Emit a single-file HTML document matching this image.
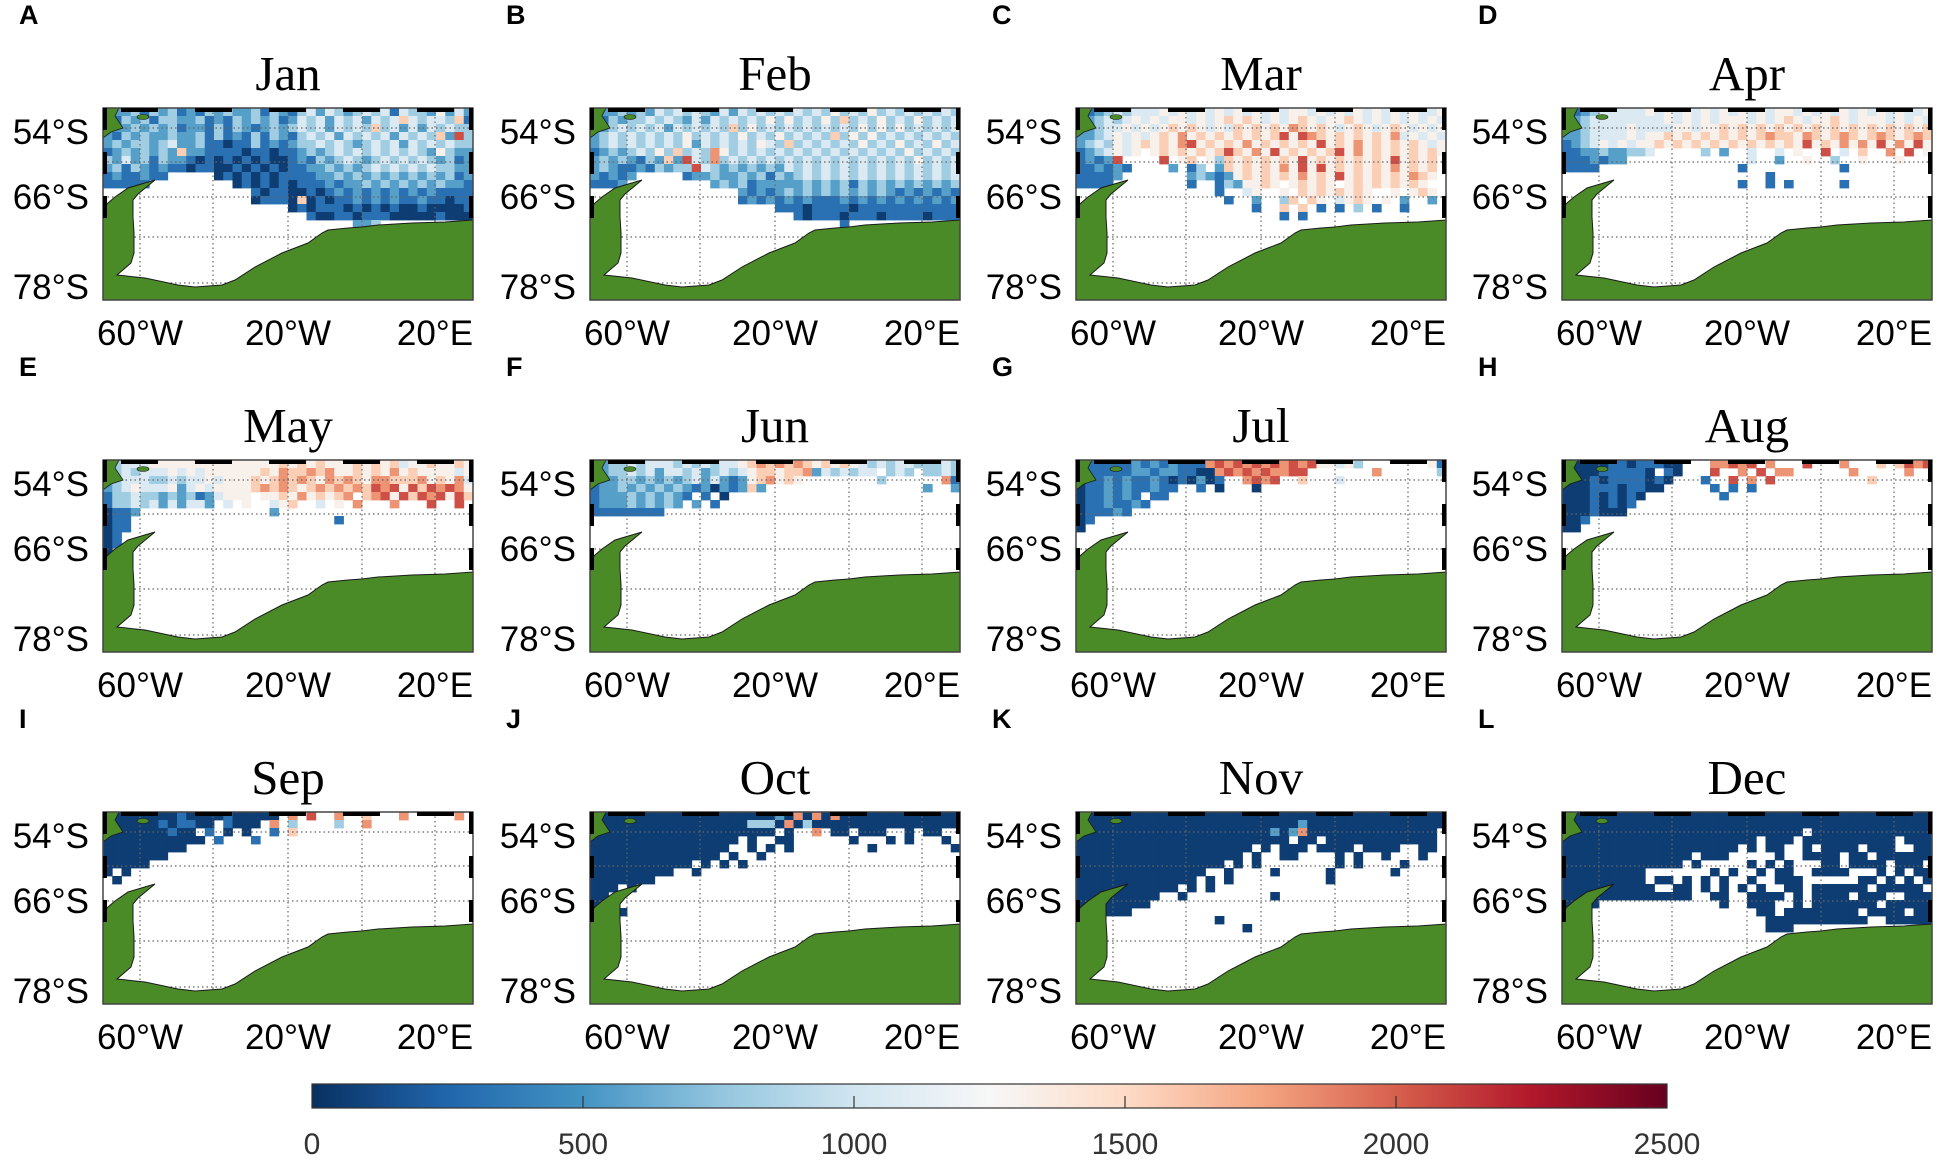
<!DOCTYPE html>
<html><head><meta charset="utf-8">
<style>
html,body{margin:0;padding:0;background:#fff;}
svg{display:block;}
</style></head>
<body>
<svg id="fig" width="1949" height="1161" viewBox="0 0 1949 1161" xmlns="http://www.w3.org/2000/svg"></svg>
<script>
const months = ["Jan","Feb","Mar","Apr","May","Jun","Jul","Aug","Sep","Oct","Nov","Dec"];
const panelLetters = ["A","B","C","D","E","F","G","H","I","J","K","L"];
const latTickLabels = ["54°S","66°S","78°S"];
const lonTickLabels = ["60°W","20°W","20°E"];
const colorbarTicks = [0,500,1000,1500,2000,2500];
// gridded values: digit d => value d*250+60, '.' = no data
const janRows = [
"1223132312132322313213424323434143325242",
"2132313322312132323124342434243464344361",
"1223232312213132123234342434363424243433",
"2132322322313121313213434243434243436283",
"2323323422311011312123343432343424343433",
"1232323262211110110112323434343434325322",
"3242313221010101010012132343234343432312",
"2313212110110010101011223232343434343322",
"1211211.....0101010111122323232323232312",
"11111.........01010101112122323232323221",
"................101100101212121212121111",
"................011106010112121211211011",
"....................01011101010100100001",
"......................100110111000001000",
"...........................223.........."];
const febRows = [
"1223232434343242434343434353435343434343",
"2132334343242434343535343536343534353434",
"1234343424343436353434343434353535343434",
"2343434343534343534353434363535343434343",
"2343434343524343435436343434353435343534",
"1232343536343753434343434343434343534343",
"2323213262843734343434343434343434353434",
"2321121323384323232324343434343434343434",
"21212.....122322323132343434343434343434",
"1112.........232312222232323132323232323",
"................212123232323232321212121",
"................121212121112121212121212",
"....................11101111011111111111",
"......................101110111011110111",
"...........................1............"];
const marRows = [
"1123434445454545454545455454545454545445",
"1234345454554545656545456545565454545454",
"2234454545656545465656576565456545654545",
"2234545456575656565656858765656565745454",
"2343545656578565657565656585657565656545",
"1234545.56565656865758565656857565656565",
"12128....8.56.5365656565856565656585656",
"112121....2.13.265656575858565656575656",
"11112.......232125656565756585656565765",
"1111........1..1325565.56565.565656565",
"...............1..45..5.65656565..5.565",
"................1..2..36.65.4565.5.2..2",
"...................1..6.6.1.1.3.1..1...",
"......................1.1.............."];
const aprRows = [
"1123444445454545454545455454545454545445",
"1234444444454545455545456545565455545454",
"2234444544445545565656565656565656565656",
"2234444545565656565656766576567656765676",
"1234545455656565656565656585657575857585",
"1122322334.....3.2..4..4.5..8.4.6..7.8.5",
"1112122.............4..2..5..3..5...5...",
"1111...............1..........1.........",
"......................1.................",
"...................1..1.1.....1........."];
const mayRows = [
"2344455555555555555656565556565645565565",
"2343444545455555565766767556565756555545",
"2344433434454555656767657676577666756574",
"2345444524545555676765676767687858687875",
"1334332323124555.5565756567.678586878586",
"133434242442.4.5..456..4.5.7...7...8..8.",
"0112..............2.....................",
"011......................1..............",
"011.....................................",
"01......................................",
"01......................................",
"0......................................."];
const junRows = [
"1233434443434344567676765656543434433343",
"1233434244342343456656672434344.343.3343",
"12233232323424212567565........3......71",
"1223232323212021262.................2..2",
"12223232321.1.0.........................",
"1222323232.2.1..........................",
"11111111................................"];
const julRows = [
"0111112121211178787878787855453.......51",
"0111112212211007878787788.......7......3",
"0112121121010201..7878..6...4...........",
"01121211211..1.0...0....................",
"0112121.11..............................",
"01121121................................",
"011121..................................",
"01......................................",
"0......................................."];
const augRows = [
"0000011011100...77878.7...8...7...6.6878",
"0000111110.10...8..7.8.77......7.....7..",
"000101111010...1..8.7.8..........6......",
"00011101100.....1.1.1...................",
"000101010........1......................",
"00010101................................",
"0001000.................................",
"001.....................................",
"00......................................"];
const sepRows = [
"0000000010000100000.7.8..7..6...7.....7.",
"000000101100.1000.7.3....3..7...........",
"0000000100.1.0.0..1.6...................",
"00000000000.1...1.......................",
"000000000...............................",
"0000000.................................",
"00000...................................",
"0.0.....................................",
".0......................................"];
const octRows = [
"0000000000000000000020707070000000000000",
"0000000000000000033307030000000000000000",
"00000000000000000000.0..7.00.000..0.00..",
"0000000000000000.0..00......0...0.0...0.",
"000000000000000..0.0.0........0........0",
"00000000000000.0..0.....................",
"00000000000.0.0.0.......................",
"000000000..0............................",
"0000000.................................",
"000.0...................................",
"00......................................",
"00......................................",
"...0...................................."];
const novRows = [
"0000000000000000000000000000000000000000",
"0000000000000000000000002000000000000000",
"000000000000000000000202700000000000000.",
"00000000000000000000000.00.000000000000.",
"0000000000000000000.0.000.0000.0000..00.",
"000000000000000000.0..00....0.0..0...0..",
"0000000000000000.0.0........0.0....0....",
"00000000000000..0....0.....0......0.....",
"0000000000000.0.0..........0............",
"00000000000.0.0.........................",
"000000000..0.........0..................",
"00000000................................",
"000000..................................",
"...............0........................",
"..................0....................."];
const decRows = [
"0000000000000000000000000000000000000000",
"0000000000000000000000000000000000000000",
"00000000000000000000000000.0000000000000",
"000000000000000000000.000.0000000000.000",
"0000000000000000000.0.00..0.0000.000..00",
"00000000000000.000.....0..0000.00.000000",
"0000000000000.0.....0.0.0...00.0000.000.",
"000000000.......0.0..0.00..0000...0.0.00",
"000000000.00.0.0.0..0..000......00.0.0.0",
"0000000000..00.0.0.0.0..00.000000.00000.",
"00000000000000..00..0000.0.0000.000..000",
"0000.............0..000..0.0000000.00000",
".....................00.00000000.0000.00",
"......................00000000000..00000",
"......................000..............."];
const monthRows = [janRows,febRows,marRows,aprRows,mayRows,junRows,julRows,augRows,sepRows,octRows,novRows,decRows];

const NS = "http://www.w3.org/2000/svg";
const svg = document.getElementById('fig');
function mk(tag, attrs, parent){
  const e = document.createElementNS(NS, tag);
  for (const k in attrs) e.setAttribute(k, attrs[k]);
  (parent||svg).appendChild(e);
  return e;
}
const stops = [[0,[8,48,97]],[0.1,[33,102,172]],[0.2,[67,147,195]],[0.3,[146,197,222]],[0.4,[209,229,240]],[0.5,[247,247,247]],[0.6,[253,219,199]],[0.7,[244,165,130]],[0.8,[214,96,77]],[0.9,[178,24,43]],[1,[103,0,31]]];
function cmap(t){
  t=Math.max(0,Math.min(1,t));
  for(let i=1;i<stops.length;i++){
    if(t<=stops[i][0]){
      const a=stops[i-1],b=stops[i],f=(t-a[0])/(b[0]-a[0]);
      const c=a[1].map((v,j)=>Math.round(v+(b[1][j]-v)*f));
      return `rgb(${c[0]},${c[1]},${c[2]})`;
    }
  }
  return 'rgb(103,0,31)';
}
const VMAX = 2500;
const colX = [103,590,1076,1562], rowY = [108,460,812];
const W = 370, H = 192, NC = 40, CH = 8;
const CW = W/NC;
const latGrid = [20,54,89,129,175], lonGrid = [37,110,185,259,332];
const latLabelY = [24,89,179], lonLabelX = [37,185,332];
const landPts = [[0,192],[0,100],[5,95],[12,89],[25,80],[35,77],[52,72],[35,86],[30,92],[30,109],[31,125],[31,145],[28,155],[14,167],[42,170],[75,177],[92,179],[119,177],[132,172],[152,159],[179,145],[205,135],[219,125],[225,122],[245,120],[259,119],[275,117],[309,115],[342,114],[370,112],[370,192]];
const saPts = [[0,0],[16,0],[12,8],[20,20],[8,24],[0,30]];

months.forEach((m, i) => {
  const px = colX[i%4], py = rowY[Math.floor(i/4)];
  const g = mk('g', {transform:`translate(${px},${py})`});
  
  
  const lt = mk('text', {x:-84, y:-84, 'font-family':'"Liberation Sans",sans-serif','font-weight':'bold','font-size':27,fill:'#000'}, g);
  lt.textContent = panelLetters[i];
  
  
  const tt = mk('text', {x:W/2, y:-18, 'text-anchor':'middle','font-family':'"Liberation Serif",serif','font-size':49,fill:'#000'}, g);
  tt.textContent = m;
  
  
  mk('rect',{x:0,y:0,width:W,height:H,fill:'#fff'},g);
  const cells = mk('g',{},g);
  
  
  monthRows[i].forEach((row, r) => {
    for (let c=0;c<NC && c<row.length;c++){
      const ch=row[c];
      if(ch<'0'||ch>'9') continue;
      const v = (+ch)*250+60;
      const cell = mk('rect',{x:(c*CW).toFixed(2),y:r*CH,width:(CW+0.4).toFixed(2),height:CH+0.4,fill:cmap(v/VMAX)},cells);
      
      
    }
  });
  latGrid.forEach(y=>mk('line',{x1:0,x2:W,y1:y,y2:y,stroke:'#666','stroke-width':1.2,'stroke-dasharray':'1.5 3'},g));
  lonGrid.forEach(x=>mk('line',{x1:x,x2:x,y1:0,y2:H,stroke:'#666','stroke-width':1.2,'stroke-dasharray':'1.5 3'},g));
  const land = mk('polygon',{points:landPts.map(p=>p.join(',')).join(' '),fill:'#4a8b28',stroke:'#1a1a1a','stroke-width':1},g);
  
  
  const sa = mk('polygon',{points:saPts.map(p=>p.join(',')).join(' '),fill:'#4a8b28',stroke:'#1a1a1a','stroke-width':0.8},g);
  
  
  mk('ellipse',{cx:40,cy:9,rx:6,ry:2.5,fill:'#4a8b28',stroke:'#1a1a1a','stroke-width':0.6},g);
  mk('rect',{x:0,y:0,width:W,height:H,fill:'none',stroke:'#444','stroke-width':1.5},g);
  mk('line',{x1:0,x2:W,y1:2,y2:2,stroke:'#000','stroke-width':4,'stroke-dasharray':'37 37','stroke-dashoffset':'-18'},g);
  mk('line',{x1:2,x2:2,y1:0,y2:110,stroke:'#000','stroke-width':4,'stroke-dasharray':'22 22'},g);
  mk('line',{x1:W-2,x2:W-2,y1:0,y2:110,stroke:'#000','stroke-width':4,'stroke-dasharray':'22 22'},g);
  latTickLabels.forEach((s,k)=>{
    const t = mk('text',{x:-14,y:latLabelY[k]+12,'text-anchor':'end','font-family':'"Liberation Sans",sans-serif','font-size':35,fill:'#000'},g);
    t.textContent = s;
    
    
  });
  lonTickLabels.forEach((s,k)=>{
    const t = mk('text',{x:lonLabelX[k],y:H+45,'text-anchor':'middle','font-family':'"Liberation Sans",sans-serif','font-size':35,fill:'#000'},g);
    t.textContent = s;
    
    
  });
});

const cbX0 = 312, cbX1 = 1667, cbY = 1084, cbH = 24;
const defs = mk('defs',{});
const grad = mk('linearGradient',{id:'cbg',x1:0,x2:1,y1:0,y2:0},defs);
for(let k=0;k<=20;k++){ mk('stop',{offset:k/20,'stop-color':cmap(k/20)},grad); }
const cb = mk('rect',{x:cbX0,y:cbY,width:cbX1-cbX0,height:cbH,fill:'url(#cbg)',stroke:'#333','stroke-width':1.2});


function cbScale(v){ return cbX0 + (cbX1-cbX0)*v/VMAX; }
colorbarTicks.forEach(v=>{
  const x = cbScale(v);
  if(v>0 && v<VMAX) mk('line',{x1:x,x2:x,y1:cbY+cbH-12,y2:cbY+cbH,stroke:'#333','stroke-width':1.2});
  const t = mk('text',{x:x,y:1154,'text-anchor':'middle','font-family':'"Liberation Sans",sans-serif','font-size':30,fill:'#333'});
  t.textContent = v;
  
  
});
</script>
</body></html>
